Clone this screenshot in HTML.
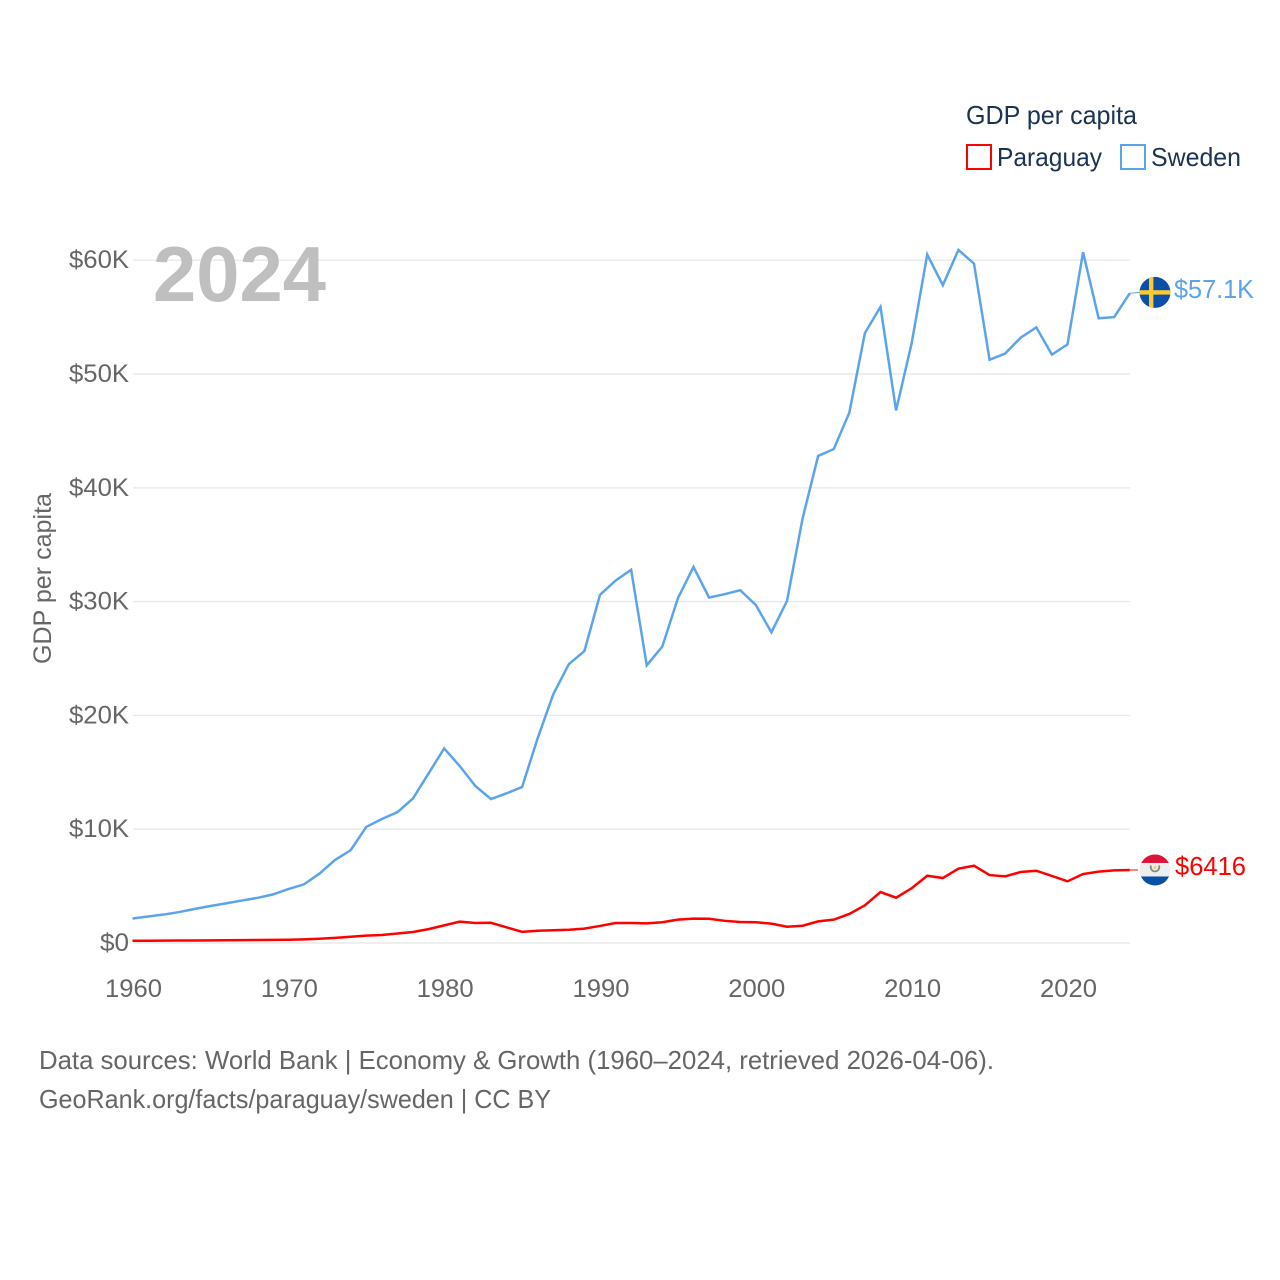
<!DOCTYPE html>
<html lang="en">
<head>
<meta charset="utf-8">
<title>GDP per capita: Paraguay and Sweden</title>
<style>
html,body{margin:0;padding:0;background:#fff;}
svg{display:block;font-family:"Liberation Sans",sans-serif;}
</style>
</head>
<body>
<svg id="chart" xmlns="http://www.w3.org/2000/svg" width="1280" height="1280" viewBox="0 0 1280 1280">
  <defs>
    <clipPath id="clip-se"><circle id="clip-se-c" cx="1155" cy="292" r="15.5"></circle></clipPath>
    <clipPath id="clip-py"><circle id="clip-py-c" cx="1155" cy="870" r="15.5"></circle></clipPath>
  </defs>
  <rect width="1280" height="1280" fill="#fff"></rect>
  <g id="grid"></g>
  <text x="153" y="301" font-size="78" font-weight="700" fill="#bfbfbf" textLength="173" lengthAdjust="spacingAndGlyphs">2024</text>
  <g id="yticks"></g>
  <g id="xticks"></g>
  <text transform="translate(51,664) rotate(-90)" font-size="25" fill="#666" textLength="171" lengthAdjust="spacingAndGlyphs">GDP per capita</text>
  <g id="series"></g>
  <g id="ends"></g>

  <g>
    <text x="966" y="124" font-size="26" fill="#1a3352" textLength="171" lengthAdjust="spacingAndGlyphs">GDP per capita</text>
    <g>
      <rect x="967" y="145" width="24" height="24" fill="none" stroke="#ff0000" stroke-width="2"></rect>
      <text x="997" y="166" font-size="26" fill="#1a3352" textLength="105" lengthAdjust="spacingAndGlyphs">Paraguay</text>
    </g>
    <g>
      <rect x="1121" y="145" width="24" height="24" fill="none" stroke="#5ba4ec" stroke-width="2"></rect>
      <text x="1151" y="166" font-size="26" fill="#1a3352" textLength="90" lengthAdjust="spacingAndGlyphs">Sweden</text>
    </g>
  </g>

  <text x="39" y="1069" font-size="26" fill="#666" textLength="955" lengthAdjust="spacingAndGlyphs">Data sources: World Bank | Economy &amp; Growth (1960–2024, retrieved 2026-04-06).</text>
  <text x="39" y="1108" font-size="26" fill="#666" textLength="512" lengthAdjust="spacingAndGlyphs">GeoRank.org/facts/paraguay/sweden | CC BY</text>
</svg>

<script>
const years = [1960,1961,1962,1963,1964,1965,1966,1967,1968,1969,1970,1971,1972,1973,1974,1975,1976,1977,1978,1979,1980,1981,1982,1983,1984,1985,1986,1987,1988,1989,1990,1991,1992,1993,1994,1995,1996,1997,1998,1999,2000,2001,2002,2003,2004,2005,2006,2007,2008,2009,2010,2011,2012,2013,2014,2015,2016,2017,2018,2019,2020,2021,2022,2023,2024];
const swedenValues = [2.15,2.33,2.5,2.72,3.0,3.25,3.48,3.73,3.96,4.26,4.74,5.15,6.1,7.3,8.15,10.2,10.9,11.5,12.7,14.9,17.1,15.55,13.8,12.65,13.15,13.7,18.0,21.85,24.5,25.65,30.6,31.85,32.8,24.4,26.05,30.3,33.05,30.35,30.65,31.0,29.7,27.3,30.05,37.3,42.8,43.4,46.6,53.6,55.9,46.8,52.7,60.5,57.8,60.9,59.7,51.25,51.8,53.2,54.1,51.7,52.6,60.7,54.9,55.0,57.1];
const paraguayValues = [0.2,0.2,0.21,0.22,0.22,0.23,0.24,0.25,0.26,0.27,0.29,0.32,0.37,0.45,0.55,0.65,0.7,0.83,0.97,1.22,1.55,1.88,1.76,1.78,1.38,0.98,1.08,1.12,1.16,1.26,1.5,1.76,1.76,1.72,1.82,2.05,2.14,2.13,1.95,1.85,1.82,1.7,1.43,1.52,1.9,2.05,2.55,3.31,4.48,3.98,4.81,5.91,5.71,6.53,6.79,5.97,5.86,6.24,6.35,5.89,5.42,6.06,6.27,6.38,6.416];
const yTickValues = [0,10,20,30,40,50,60];
const yTickLabels = ["$0","$10K","$20K","$30K","$40K","$50K","$60K"];
const xTickValues = [1960,1970,1980,1990,2000,2010,2020];
const swedenEndLabel = "$57.1K";
const paraguayEndLabel = "$6416";

const NS = "http://www.w3.org/2000/svg";
const BLUE = "#5ba4ec";
const RED = "#ff0000";
const xScale = function (year) { return 132.5 + (year - 1960) * 15.583; };
const yScale = function (value) { return 943 - value * 11.38; };

function make(tag, parent) {
  const el = document.createElementNS(NS, tag);
  parent.appendChild(el);
  return el;
}
function setAll(el, attrs) {
  for (const k in attrs) el.setAttribute(k, attrs[k]);
  return el;
}

const grid = document.getElementById("grid");
const yticks = document.getElementById("yticks");
yTickValues.forEach(function (v, i) {
  const line = make("line", grid);
  
  
  setAll(line, {x1: 133, x2: 1130, y1: yScale(v), y2: yScale(v), stroke: "#e9e9e9", "stroke-width": 1.4});
  const t = make("text", yticks);
  
  
  setAll(t, {x: 129, y: yScale(v) + 8, "text-anchor": "end", "font-size": 25, fill: "#666"});
  t.textContent = yTickLabels[i];
  const w = t.textContent.length === 2 ? 29 : 60;
  t.setAttribute("textLength", w);
  t.setAttribute("lengthAdjust", "spacingAndGlyphs");
});

const xticks = document.getElementById("xticks");
xTickValues.forEach(function (year) {
  const t = make("text", xticks);
  
  
  setAll(t, {x: xScale(year) + 1, y: 997, "text-anchor": "middle", "font-size": 25, fill: "#666", textLength: 57, lengthAdjust: "spacingAndGlyphs"});
  t.textContent = String(year);
});

function pathFor(values) {
  return values.map(function (v, i) {
    return (i ? "L" : "M") + xScale(years[i]).toFixed(2) + " " + yScale(v).toFixed(2);
  }).join(" ");
}

const series = document.getElementById("series");
const lineSweden = make("path", series);


setAll(lineSweden, {d: pathFor(swedenValues), fill: "none", stroke: BLUE, "stroke-width": 2.5, "stroke-linejoin": "miter"});

const linePy = make("path", series);


setAll(linePy, {d: pathFor(paraguayValues), fill: "none", stroke: RED, "stroke-width": 2.5, "stroke-linejoin": "miter"});

const ends = document.getElementById("ends");
const lastX = xScale(years[years.length - 1]);
const seY = yScale(swedenValues[swedenValues.length - 1]) - 0.8;
const pyY = yScale(paraguayValues[paraguayValues.length - 1]);

const connSe = make("line", ends);


setAll(connSe, {x1: lastX, x2: 1140, y1: seY + 0.8, y2: seY, stroke: BLUE, "stroke-width": 1});

const connPy = make("line", ends);


setAll(connPy, {x1: lastX, x2: 1138, y1: pyY, y2: pyY, stroke: RED, "stroke-width": 1});

document.getElementById("clip-se-c").setAttribute("cy", seY);
document.getElementById("clip-py-c").setAttribute("cy", pyY);

const flagSe = make("g", ends);


flagSe.setAttribute("clip-path", "url(#clip-se)");
setAll(make("rect", flagSe), {x: 1139, y: seY - 16, width: 32, height: 32, fill: "#0b50a8"});
setAll(make("rect", flagSe), {x: 1139, y: seY - 2.2, width: 32, height: 4.4, fill: "#fcc92e"});
setAll(make("rect", flagSe), {x: 1149, y: seY - 16, width: 4.4, height: 32, fill: "#fcc92e"});

const flagPy = make("g", ends);


flagPy.setAttribute("clip-path", "url(#clip-py)");
setAll(make("rect", flagPy), {x: 1139, y: pyY - 16, width: 32, height: 9, fill: "#dc1437"});
setAll(make("rect", flagPy), {x: 1139, y: pyY - 7, width: 32, height: 14, fill: "#eeeeee"});
setAll(make("rect", flagPy), {x: 1139, y: pyY + 6.5, width: 32, height: 10, fill: "#0a4fa6"});
setAll(make("path", flagPy), {d: "M1151 " + (pyY - 4.5) + " A4.3 4.3 0 1 0 1159 " + (pyY - 4.5), fill: "none", stroke: "#7d8f80", "stroke-width": 1.8});
setAll(make("circle", flagPy), {cx: 1155, cy: pyY - 2.5, r: 1.5, fill: "#f3cf5a"});

const labelSe = make("text", ends);


setAll(labelSe, {x: 1174, y: seY + 5.5, "font-size": 26, fill: BLUE, textLength: 80, lengthAdjust: "spacingAndGlyphs"});
labelSe.textContent = swedenEndLabel;

const labelPy = make("text", ends);


setAll(labelPy, {x: 1175, y: pyY + 5, "font-size": 26, fill: RED, textLength: 71, lengthAdjust: "spacingAndGlyphs"});
labelPy.textContent = paraguayEndLabel;
</script>
</body>
</html>
